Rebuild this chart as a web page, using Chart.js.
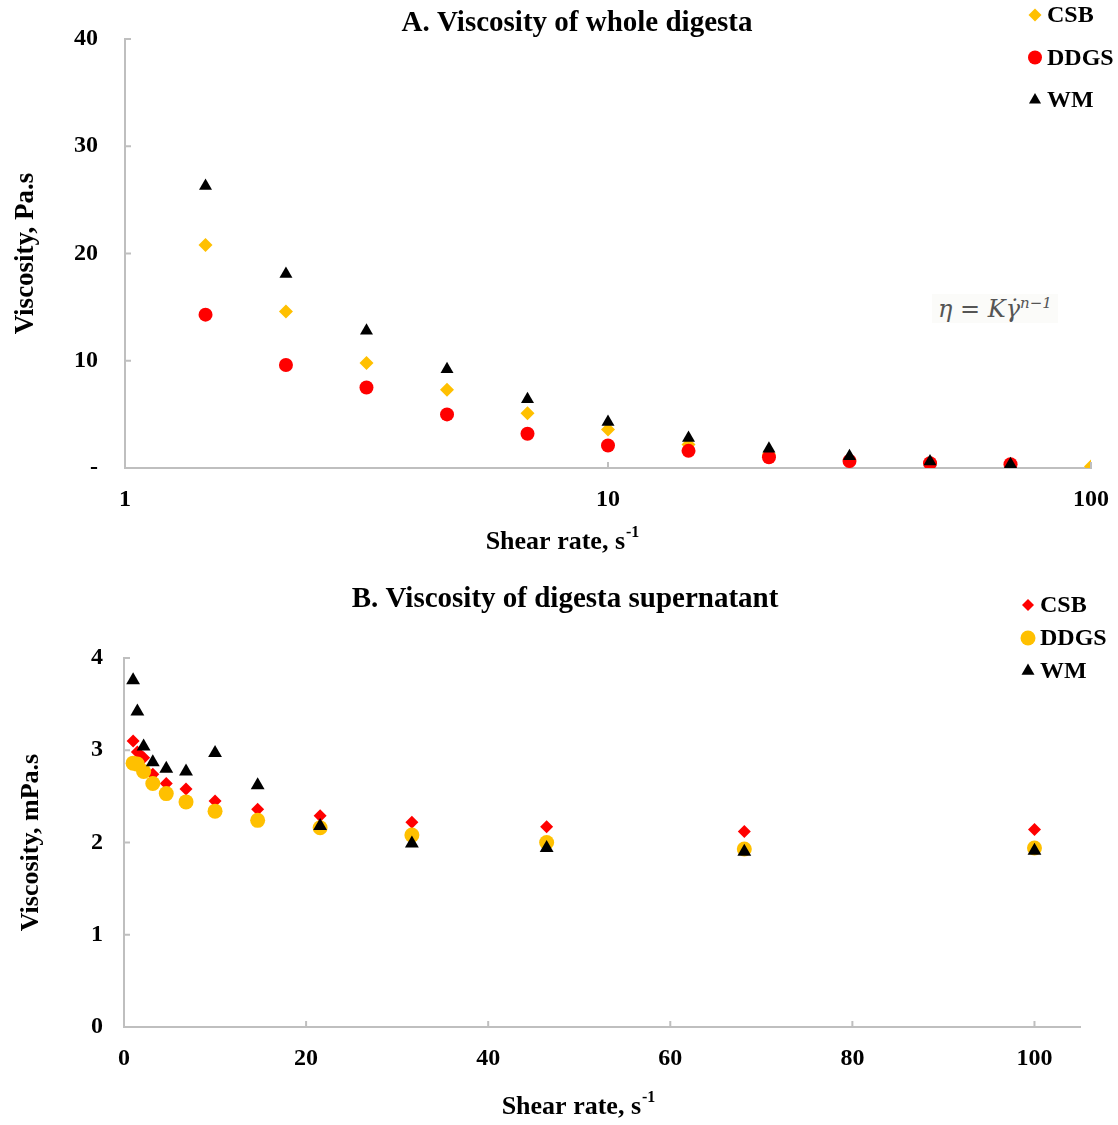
<!DOCTYPE html>
<html>
<head>
<meta charset="utf-8">
<script src="https://cdn.jsdelivr.net/npm/chart.js@4.4.1/dist/chart.umd.min.js"></script>
<style>
  body { margin: 0; background: #fff; width: 1118px; height: 1125px; position: relative; overflow: hidden; }
  .box { position: absolute; left: 0; }
  #boxA { top: 0; }
  #boxB { top: 560px; }
  .formula { position: absolute; left: 932px; top: 294px; font: italic 24px 'DejaVu Serif', serif; color: #555; background: #fbfbf9; padding: 0 6px; }
  .formula sup { font-size: 15px; }
</style>
</head>
<body>
<div class="box" id="boxA"><canvas id="chartA" width="1118" height="560"></canvas></div>
<div class="box" id="boxB"><canvas id="chartB" width="1118" height="565"></canvas></div>
<div class="formula">η = Kγ&#775;<sup>n−1</sup></div>

<script>
// shear rate, s-1 (same steps for both panels)
const shearRate = [1, 1.468, 2.154, 3.162, 4.642, 6.813, 10, 14.68, 21.54, 31.62, 46.42, 68.13, 100];
const seriesNames = ['CSB', 'DDGS', 'WM'];

// A. whole digesta, Pa.s
const wholeCSB  = [null, 20.8, 14.6, 9.8, 7.3, 5.1, 3.6, 2.2, 1.3, 0.8, 0.5, 0.3, 0.15];
const wholeDDGS = [null, 14.3, 9.6, 7.5, 5.0, 3.2, 2.1, 1.6, 1.0, 0.65, 0.45, 0.35, null];
const wholeWM   = [null, 26.3, 18.1, 12.8, 9.2, 6.4, 4.3, 2.8, 1.8, 1.1, 0.6, 0.35, null];

// B. digesta supernatant, mPa.s
const superCSB  = [3.10, 2.98, 2.92, 2.74, 2.64, 2.58, 2.45, 2.36, 2.29, 2.22, 2.17, 2.12, 2.14];
const superDDGS = [2.86, 2.85, 2.77, 2.64, 2.53, 2.44, 2.34, 2.24, 2.16, 2.08, 2.00, 1.93, 1.94];
const superWM   = [3.76, 3.42, 3.04, 2.87, 2.80, 2.77, 2.97, 2.62, 2.18, 1.99, 1.94, 1.90, 1.91];

// tick labels
const xTicksA = [1, 10, 100];
const yTicksA = [0, 10, 20, 30, 40];
const xTicksB = [0, 20, 40, 60, 80, 100];
const yTicksB = [0, 1, 2, 3, 4];

const ORANGE = '#ffc000';
const RED = '#ff0000';
const BLACK = '#000000';
const AXIS = '#bfbfbf';
const SERIF = '"Liberation Serif", "Times New Roman", serif';

Chart.defaults.font.family = SERIF;
Chart.defaults.color = '#000';

function pts(vals) {
  const out = [];
  vals.forEach((v, i) => { if (v !== null) out.push({ x: shearRate[i], y: v }); });
  return out;
}

// titles, x axis title with superscript, legend and inward tick marks
const decor = {
  id: 'decor',
  afterDraw(chart, args, o) {
    const ctx = chart.ctx;
    const ca = chart.chartArea;
    ctx.save();

    // inward tick marks
    ctx.strokeStyle = AXIS;
    ctx.lineWidth = 2;
    const xs = chart.scales.x, ys = chart.scales.y;
    xs.ticks.forEach(t => {
      const px = xs.getPixelForValue(t.value);
      ctx.beginPath(); ctx.moveTo(px, ca.bottom); ctx.lineTo(px, ca.bottom - 6); ctx.stroke();
    });
    ys.ticks.forEach(t => {
      const py = ys.getPixelForValue(t.value);
      ctx.beginPath(); ctx.moveTo(ca.left, py); ctx.lineTo(ca.left + 6, py); ctx.stroke();
    });

    ctx.fillStyle = '#000';
    ctx.textBaseline = 'middle';

    // chart title
    ctx.font = 'bold 29px ' + SERIF;
    ctx.textAlign = 'center';
    ctx.fillText(o.title, o.titleX, o.titleY);

    // x axis title
    ctx.font = 'bold 26px ' + SERIF;
    const main = 'Shear rate, s';
    const w1 = ctx.measureText(main).width;
    ctx.font = 'bold 16px ' + SERIF;
    const w2 = ctx.measureText('-1').width;
    const x0 = o.xTitleX - (w1 + w2) / 2;
    ctx.textAlign = 'left';
    ctx.font = 'bold 26px ' + SERIF;
    ctx.fillText(main, x0, o.xTitleY);
    ctx.font = 'bold 16px ' + SERIF;
    ctx.fillText('-1', x0 + w1 + 1, o.xTitleY - 9);

    // legend
    chart.data.datasets.forEach((ds, i) => {
      const y = o.legendY + i * o.legendGap;
      ctx.fillStyle = ds.backgroundColor;
      Chart.helpers.drawPoint(ctx, { pointStyle: ds.pointStyle, radius: o.legendRadius[i], rotation: 0, borderWidth: 0 }, o.legendX, y);
      ctx.fillStyle = '#000';
      ctx.font = 'bold 24px ' + SERIF;
      ctx.fillText(ds.label, o.legendX + 12, y + 1);
    });
    ctx.restore();
  }
};

function fixWidth(w) { return s => { s.width = w; }; }
function fixHeight(h) { return s => { s.height = h; }; }

// ---- A. Viscosity of whole digesta ----
new Chart(document.getElementById('chartA'), {
  type: 'scatter',
  data: {
    datasets: [
      { label: seriesNames[0], data: pts(wholeCSB), pointStyle: 'rectRot', pointRadius: 7, backgroundColor: ORANGE, borderWidth: 0, order: 3 },
      { label: seriesNames[1], data: pts(wholeDDGS), pointStyle: 'circle', pointRadius: 7, backgroundColor: RED, borderWidth: 0, order: 2 },
      { label: seriesNames[2], data: pts(wholeWM), pointStyle: 'triangle', pointRadius: 7.5, backgroundColor: BLACK, borderWidth: 0, order: 1 }
    ]
  },
  options: {
    responsive: false,
    animation: false,
    layout: { padding: { top: 39, right: 25, left: 0, bottom: 0 } },
    plugins: {
      legend: { display: false },
      tooltip: { enabled: false },
      decor: {
        title: 'A. Viscosity of whole digesta', titleX: 577, titleY: 24,
        xTitleX: 562, xTitleY: 542,
        legendX: 1035, legendY: 15, legendGap: 42.5, legendRadius: [6.5, 7, 7]
      }
    },
    scales: {
      x: {
        type: 'logarithmic',
        min: 1, max: 100,
        afterBuildTicks: s => { s.ticks = xTicksA.map(v => ({ value: v })); },
        afterFit: fixHeight(92),
        grid: { display: false },
        border: { color: AXIS, width: 2 },
        ticks: { padding: 9, maxRotation: 0, font: { size: 24, weight: 'bold' }, callback: v => String(v) }
      },
      y: {
        min: 0, max: 40,
        afterBuildTicks: s => { s.ticks = yTicksA.map(v => ({ value: v })); },
        afterFit: fixWidth(125),
        grid: { display: false },
        border: { color: AXIS, width: 2 },
        ticks: { padding: 19, font: { size: 24, weight: 'bold' }, callback: v => v === 0 ? '-' : String(v) },
        title: { display: true, text: 'Viscosity, Pa.s', padding: { top: 10 }, font: { size: 27, weight: 'bold' } }
      }
    }
  },
  plugins: [decor]
});

// ---- B. Viscosity of digesta supernatant ----
new Chart(document.getElementById('chartB'), {
  type: 'scatter',
  data: {
    datasets: [
      { label: seriesNames[0], data: pts(superCSB), pointStyle: 'rectRot', pointRadius: 6.5, backgroundColor: RED, borderWidth: 0, order: 3 },
      { label: seriesNames[1], data: pts(superDDGS), pointStyle: 'circle', pointRadius: 7.5, backgroundColor: ORANGE, borderWidth: 0, order: 2 },
      { label: seriesNames[2], data: pts(superWM), pointStyle: 'triangle', pointRadius: 8, backgroundColor: BLACK, borderWidth: 0, order: 1 }
    ]
  },
  options: {
    responsive: false,
    animation: false,
    layout: { padding: { top: 98, right: 38, left: 0, bottom: 0 } },
    plugins: {
      legend: { display: false },
      tooltip: { enabled: false },
      decor: {
        title: 'B. Viscosity of digesta supernatant', titleX: 565, titleY: 40,
        xTitleX: 578, xTitleY: 547,
        legendX: 1028, legendY: 45, legendGap: 33, legendRadius: [6, 7.5, 7.5]
      }
    },
    scales: {
      x: {
        type: 'linear',
        min: 0, max: 105,
        afterBuildTicks: s => { s.ticks = xTicksB.map(v => ({ value: v })); },
        afterFit: fixHeight(98),
        grid: { display: false },
        border: { color: AXIS, width: 2 },
        ticks: { padding: 9, maxRotation: 0, font: { size: 24, weight: 'bold' } }
      },
      y: {
        min: 0, max: 4,
        afterBuildTicks: s => { s.ticks = yTicksB.map(v => ({ value: v })); },
        afterFit: fixWidth(124),
        grid: { display: false },
        border: { color: AXIS, width: 2 },
        ticks: { padding: 13, font: { size: 24, weight: 'bold' } },
        title: { display: true, text: 'Viscosity, mPa.s', padding: { top: 16 }, font: { size: 26, weight: 'bold' } }
      }
    }
  },
  plugins: [decor]
});
</script>
</body>
</html>
